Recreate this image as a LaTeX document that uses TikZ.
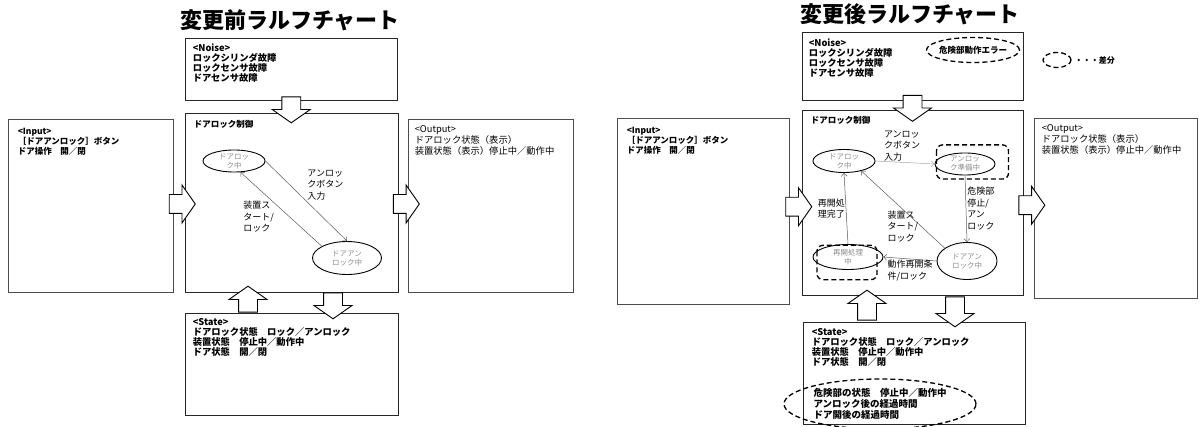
\documentclass[tikz,border=0pt]{standalone}
\usepackage{fontspec}
\setmainfont{Noto Sans CJK JP}
\usetikzlibrary{shapes.geometric,shapes.arrows,arrows.meta,positioning,calc}

\tikzset{
  panel/.style={draw=black!85, line width=0.9pt, inner sep=0pt},
  iopanel/.style={draw=black!70, line width=0.8pt, inner sep=0pt},
  boxtext/.style={anchor=north west, align=left, inner sep=1pt, font=\bfseries\fontsize{9.3}{10}\selectfont},
  outtext/.style={anchor=north west, align=left, inner sep=1pt, font=\fontsize{9.3}{11}\selectfont},
  statenode/.style={draw, ellipse, line width=0.9pt, inner sep=0pt, align=center, text=black!45, font=\fontsize{7.5}{9}\selectfont},
  trans/.style={draw=black!65, line width=0.5pt, -{Straight Barb[length=3pt]}},
  lbl/.style={align=left, inner sep=1pt, font=\fontsize{9}{11.5}\selectfont},
  fatarrow/.style={single arrow, draw, fill=white, line width=0.9pt, inner xsep=0pt, inner ysep=9pt,
    minimum height=26pt, single arrow head extend=9.5pt, single arrow tip angle=110},
  diff/.style={draw, line width=1.3pt, dash pattern=on 5pt off 3pt}
}

\begin{document}
\begin{tikzpicture}[x=1pt, y=-1pt]
\useasboundingbox (0,0) rectangle (1203,427);

% ---- before ----
\node[font=\bfseries\fontsize{22}{22}\selectfont] (titleA) at (290,20) {変更前ラルフチャート};

\node[panel, minimum width=212, minimum height=62] (noiseA) at (291,69) {};
\node[panel, minimum width=213, minimum height=179] (ctrlA) at (291.5,202.5) {};
\node[iopanel, minimum width=165, minimum height=173] (inA) at (90.5,205.5) {};
\node[iopanel, minimum width=165, minimum height=173] (outA) at (490.5,205.5) {};
\node[panel, minimum width=213, minimum height=102] (stateA) at (291.5,364) {};

\node[boxtext] at ([shift={(7,5)}]noiseA.north west) {<Noise>\\ロックシリンダ故障\\ロックセンサ故障\\ドアセンサ故障};
\node[boxtext, font=\bfseries\fontsize{8.5}{10}\selectfont] at ([shift={(8,6)}]ctrlA.north west) {ドアロック制御};
\node[boxtext, font=\bfseries\fontsize{8.5}{10}\selectfont] at ([shift={(9,8)}]inA.north west) {<Input>\\［ドアアンロック］ボタン\\ドア操作　開／閉};
\node[outtext] at ([shift={(6,6)}]outA.north west) {<Output>\\ドアロック状態（表示）\\装置状態（表示）停止中／動作中};
\node[boxtext] at ([shift={(7,5)}]stateA.north west) {<State>\\ドアロック状態　ロック／アンロック\\装置状態　停止中／動作中\\ドア状態　開／閉};

\node[fatarrow, rotate=-90] (nA) at ($(noiseA.south)!0.5!(ctrlA.north)$) {};
\node[fatarrow] (iA) at ($(inA.east)!0.5!(ctrlA.west)$) {};
\node[fatarrow] (oA) at ($(ctrlA.east)!0.5!(outA.west)$) {};
\node[fatarrow, rotate=90] (suA) at (248,302.5) {};
\node[fatarrow, rotate=-90] (sdA) at (333,302.5) {};

\node[statenode, minimum width=62, minimum height=22] (lockA) at (234,161) {ドアロッ\\ク中};
\node[statenode, minimum width=69, minimum height=33] (unlockA) at (347,258) {ドアアン\\ロック中};

\draw[trans] (lockA.east) -- node[lbl, above right] {アンロッ\\クボタン\\入力} (unlockA.north);
\draw[trans] (unlockA.155) -- node[lbl, pos=0.4, left=14pt] {装置ス\\タート/\\ロック} (lockA.-60);

% ---- after ----
\node[font=\bfseries\fontsize{22}{22}\selectfont] (titleB) at (910,14) {変更後ラルフチャート};

\node[panel, minimum width=221, minimum height=68] (noiseB) at (912.5,66) {};
\node[panel, minimum width=221, minimum height=185] (ctrlB) at (912.5,202.5) {};
\node[iopanel, minimum width=172, minimum height=186] (inB) at (703,211) {};
\node[iopanel, minimum width=163, minimum height=180] (outB) at (1115.5,208) {};
\node[panel, minimum width=222, minimum height=102] (stateB) at (914,373) {};

\node[boxtext] at ([shift={(6,6)}]noiseB.north west) {<Noise>\\ロックシリンダ故障\\ロックセンサ故障\\ドアセンサ故障};
\node[diff, ellipse, minimum width=93, minimum height=25, inner sep=-3pt, font=\bfseries\fontsize{8.5}{9}\selectfont] (errB) at (973,50) {危険部動作エラー};
\node[diff, ellipse, minimum width=28, minimum height=15] (legB) at (1057,60) {};
\node[right=2pt of legB, font=\bfseries\fontsize{8}{9}\selectfont, inner sep=1pt] (legtxt) {・・・差分};

\node[boxtext, font=\bfseries\fontsize{8.5}{10}\selectfont] at ([shift={(8,5)}]ctrlB.north west) {ドアロック制御};
\node[boxtext, font=\bfseries\fontsize{8.5}{10}\selectfont] at ([shift={(9,8)}]inB.north west) {<Input>\\［ドアアンロック］ボタン\\ドア操作　開／閉};
\node[outtext] at ([shift={(7,6)}]outB.north west) {<Output>\\ドアロック状態（表示）\\装置状態（表示）停止中／動作中};
\node[boxtext] at ([shift={(8,6)}]stateB.north west) {<State>\\ドアロック状態　ロック／アンロック\\装置状態　停止中／動作中\\ドア状態　開／閉};
\node[diff, ellipse, minimum width=192, minimum height=50, inner sep=-8pt, align=left, font=\bfseries\fontsize{9.5}{11}\selectfont] (diffState) at (880,404) {危険部の状態　停止中／動作中\\アンロック後の経過時間\\ドア開後の経過時間};

\node[fatarrow, rotate=-90] (nB) at ($(noiseB.south)!0.5!(ctrlB.north)$) {};
\node[fatarrow] (iB) at ($(inB.east)!0.5!(ctrlB.west)$) {};
\node[fatarrow] (oB) at ($(ctrlB.east)!0.5!(outB.west)$) {};
\node[fatarrow, rotate=90, minimum height=30pt] (suB) at (867,308.5) {};
\node[fatarrow, rotate=-90, minimum height=30pt] (sdB) at (955,308.5) {};

\node[statenode, minimum width=62, minimum height=23] (lockB) at (844,161) {ドアロッ\\ク中};
\node[statenode, minimum width=60, minimum height=22] (prepB) at (965,164) {アンロッ\\ク準備中};
\node[statenode, minimum width=60, minimum height=37] (unlockB) at (967,261) {ドアアン\\ロック中};
\node[statenode, minimum width=70, minimum height=25] (resumeB) at (848,257) {再開処理\\中};

\draw[diff, rounded corners=6pt] ([shift={(-7,-11)}]prepB.north west) rectangle ([shift={(22,7)}]prepB.south east);
\draw[diff, rounded corners=6pt] ([shift={(-6,-2.5)}]resumeB.north west) rectangle ([shift={(4,13.5)}]resumeB.south east);

\draw[trans, draw=black!35] (lockB.east) -- node[lbl, midway, above, xshift=-3pt] {アンロッ\\クボタン\\入力} (prepB.west);
\draw[trans] (prepB.south) -- node[lbl, midway, right] {危険部\\停止/\\アン\\ロック} (unlockB.north);
\draw[trans] (unlockB.150) -- node[lbl, midway, below] {装置ス\\タート/\\ロック} (lockB.-30);
\draw[trans] (unlockB.west) -- node[lbl, midway, below] {動作再開条\\件/ロック} (resumeB.east);
\draw[trans] (resumeB.north) -- node[lbl, midway, left] {再開処\\理完了} (lockB.south);
\end{tikzpicture}
\end{document}
